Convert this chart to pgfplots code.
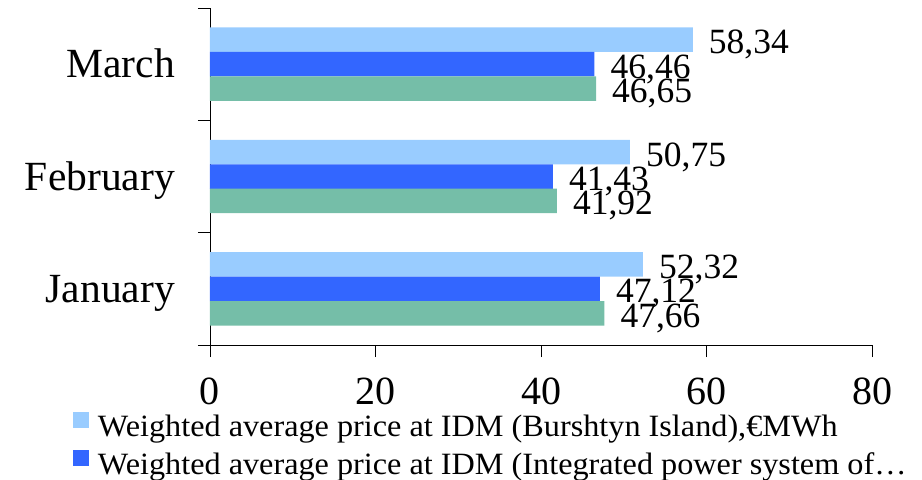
\documentclass[border=0pt]{standalone}
\usepackage{fontspec}
\setmainfont{Liberation Serif}
\newfontfamily\legfont[FakeStretch=1.04]{Liberation Serif}
\usepackage{pgfplots}
\pgfplotsset{compat=1.18}
\definecolor{lightbar}{RGB}{153,204,255}
\definecolor{bluebar}{RGB}{51,102,255}
\definecolor{greenbar}{RGB}{117,190,168}

\begin{document}
\begin{tikzpicture}
\begin{axis}[
    xbar,
    bar shift=0pt,
    bar width=24.5pt,
    scale only axis,
    width=662pt,
    height=337pt,
    xmin=0, xmax=80,
    ymin=-0.5, ymax=2.5,
    axis x line*=bottom,
    axis y line*=left,
    axis line style={black, line width=0.9pt},
    tick style={black, line width=0.9pt},
    tick align=outside,
    major tick length=12pt,
    xtick={0,20,40,60,80},
    ytick={-0.5,0.5,1.5,2.5},
    yticklabels={},
    extra y ticks={0,1,2},
    extra y tick labels={January,February,March},
    extra y tick style={major tick length=0pt,
        yticklabel style={font=\fontsize{41.5}{50}\selectfont, anchor=base east, inner sep=0pt, xshift=-35pt, yshift=-13.5pt}},
    tick label style={font=\fontsize{40}{48}\selectfont, /pgf/number format/assume math mode=true},
    xticklabel style={anchor=north, inner sep=0pt, yshift=-21pt},
    point meta=x,
    nodes near coords={\pgfmathprintnumber[fixed, fixed zerofill, precision=2, use comma, assume math mode=true]{\pgfplotspointmeta}},
    nodes near coords style={font=\fontsize{35.5}{42}\selectfont, anchor=base west, inner sep=0pt, xshift=16pt, yshift=-14pt, text=black},
    clip=false,
    legend cell align=left,
    legend style={
        draw=none, fill=none,
        inner sep=0pt, outer sep=0pt,
        at={(0,0)}, anchor=north west,
        xshift=-137pt, yshift=-67pt,
        font=\legfont\fontsize{31}{37}\selectfont,
        row sep=7pt,
        nodes={inner sep=0pt, text height=21pt, text depth=7pt}
    },
    legend image code/.code={\fill[#1] (0pt,1pt) rectangle (16pt,17pt); \path (25pt,0pt);},
]
    % bars sit 0.218 above / below the category centre
    \addplot[fill=lightbar, draw=none]
        coordinates {(52.32,0.218) (50.75,1.218) (58.34,2.218)};
    \addplot[fill=bluebar, draw=none]
        coordinates {(47.12,0) (41.43,1) (46.46,2)};
    \addplot[fill=greenbar, draw=none]
        coordinates {(47.66,-0.218) (41.92,0.782) (46.65,1.782)};

    \legend{{Weighted average price at IDM (Burshtyn Island),€MWh},
            {Weighted average price at IDM (Integrated power system of…}}

    \coordinate (ll) at (rel axis cs:0,0);
    \coordinate (ur) at (rel axis cs:1,1);
\end{axis}
\pgfresetboundingbox
\path[use as bounding box] ([xshift=-210pt,yshift=-134pt]ll) rectangle ([xshift=50pt,yshift=8pt]ur);
\end{tikzpicture}
\end{document}
